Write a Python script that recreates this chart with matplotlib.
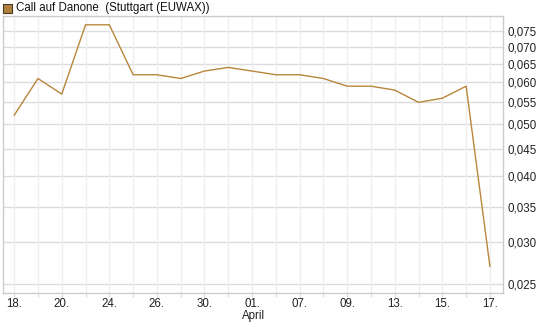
import matplotlib.pyplot as plt
import numpy as np

plt.rcParams['font.family'] = ['Liberation Sans', 'DejaVu Sans']

days = ['18.', '19.', '20.', '23.', '24.', '25.', '26.', '27.', '30.', '31.',
        '01.', '02.', '07.', '08.', '09.', '10.', '13.', '14.', '15.', '16.', '17.']
prices = [0.052, 0.061, 0.057, 0.077, 0.077, 0.062, 0.062, 0.061, 0.063, 0.064,
          0.063, 0.062, 0.062, 0.061, 0.059, 0.059, 0.058, 0.055, 0.056, 0.059, 0.027]
yticks = [0.025, 0.030, 0.035, 0.040, 0.045, 0.050, 0.055, 0.060, 0.065, 0.070, 0.075]

line_col = '#b8863b'
x = np.arange(len(prices))

fig = plt.figure(figsize=(5.45, 3.27), dpi=100)
ax = fig.add_axes([3 / 545, 34 / 327, 500 / 545, 277 / 327])

ax.plot(x, prices, color=line_col, lw=1.0)
ax.set_yscale('log')
ax.set_ylim(0.02405, 0.0800)
ax.set_xlim(-0.47, 20.55)

ax.yaxis.tick_right()
ax.set_yticks(yticks)
ax.set_yticklabels([('%.3f' % v).replace('.', ',') for v in yticks])
ax.yaxis.set_minor_locator(plt.NullLocator())
ax.tick_params(axis='y', length=0, labelsize=8.3, pad=3, labelcolor='#222222')

ax.set_xticks(x)
ax.set_xticklabels([d if i % 2 == 0 else '' for i, d in enumerate(days)])
ax.tick_params(axis='x', length=3, labelsize=8.3, pad=0.3, color='#d8d8d8',
               labelcolor='#222222')

for v in yticks:
    ax.axhline(v, color='#dcdcdc', lw=1.0, zorder=0)
for xi in x:
    ax.axvline(xi, color='#efefef', lw=1.0, zorder=0)

for s in ax.spines.values():
    s.set_color('#cccccc')
    s.set_linewidth(1.0)

fig.text(254 / 545, 1 - 316 / 327, 'April', ha='center', va='center', fontsize=8.3, color='#222222')

# legend box + title
fig.patches.append(plt.Rectangle((3 / 545, 1 - 13 / 327), 9 / 545, 9 / 327,
                                 transform=fig.transFigure, facecolor='#b08040',
                                 edgecolor='#4a3a20', lw=0.8))
fig.text(16 / 545, 1 - 8.5 / 327, 'Call auf Danone  (Stuttgart (EUWAX))',
         ha='left', va='center', fontsize=8.3, color='#111111')

fig.savefig('out.png', dpi=100)
